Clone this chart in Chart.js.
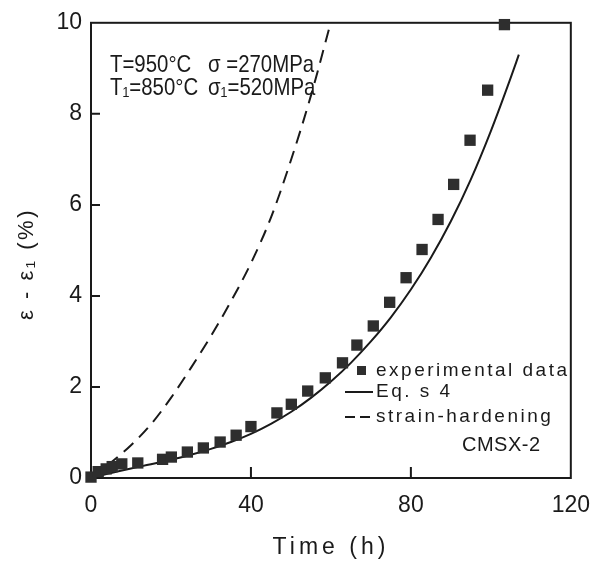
<!DOCTYPE html>
<html><head><meta charset="utf-8">
<script src="https://cdn.jsdelivr.net/npm/chart.js@4.4.0/dist/chart.umd.min.js"></script>
<style>html,body{margin:0;padding:0;background:#fff}canvas{display:block}</style>
</head><body>
<canvas id="c" width="604" height="565"></canvas>
<script>
// ---- data ----
const expTime   = [0, 1.8, 3.8, 5.3, 7.7, 11.7, 17.9, 20.1, 24.1, 28.1, 32.3, 36.3, 40, 46.5, 50.1, 54.2, 58.6, 62.9, 66.5, 70.6, 74.7, 78.8, 82.8, 86.8, 90.7, 94.8, 99.2, 103.4];
const expStrain = [0.02, 0.14, 0.2, 0.25, 0.31, 0.33, 0.41, 0.46, 0.57, 0.66, 0.79, 0.94, 1.13, 1.43, 1.62, 1.91, 2.2, 2.53, 2.92, 3.34, 3.86, 4.40, 5.02, 5.68, 6.45, 7.42, 8.52, 9.96];
const eqTime    = [0, 5, 10, 15, 20, 25, 30, 35, 40, 45, 50, 55, 60, 65, 70, 75, 80, 85, 90, 95, 100, 105, 107];
const eqStrain  = [0, 0.11, 0.21, 0.3, 0.4, 0.51, 0.64, 0.79, 0.97, 1.19, 1.45, 1.76, 2.12, 2.53, 3.0, 3.53, 4.14, 4.84, 5.64, 6.56, 7.62, 8.8, 9.3];
const shTime    = [0, 5, 10, 15, 20, 25, 30, 35, 40, 45, 50, 55, 60];
const shStrain  = [0, 0.34, 0.72, 1.18, 1.76, 2.42, 3.12, 3.88, 4.72, 5.72, 6.98, 8.4, 10.02];
const xTickValues = [0, 40, 80, 120];
const yTickValues = [0, 2, 4, 6, 8, 10];
const xTitle = 'Time (h)';
const yTitle = 'ε - ε₁ (%)';
const seriesNames = ['experimental data', 'Eq. s 4', 'strain-hardening'];
const materialName = 'CMSX-2';
const condLeft  = ['T=950°C', 'T₁=850°C'];
const condRight = ['σ =270MPa', 'σ₁=520MPa'];

const pts = (xs, ys) => xs.map((x, i) => ({x, y: ys[i]}));
const INK = '#1a1a1a';
const FONT = '"Liberation Sans", Arial, sans-serif';

const decor = {
  id: 'decor',
  beforeDatasetsDraw(chart) {
    const {ctx, chartArea: a, scales: {x, y}} = chart;
    ctx.save();
    ctx.strokeStyle = INK; ctx.lineWidth = 2;
    ctx.strokeRect(a.left, a.top, a.right - a.left, a.bottom - a.top);
    ctx.beginPath();
    y.ticks.forEach(t => {
      if (t.value > y.min && t.value < y.max) {
        const py = y.getPixelForValue(t.value);
        ctx.moveTo(a.left, py); ctx.lineTo(a.left + 9, py);
      }
    });
    x.ticks.forEach(t => {
      if (t.value > x.min && t.value < x.max) {
        const px = x.getPixelForValue(t.value);
        ctx.moveTo(px, a.bottom); ctx.lineTo(px, a.bottom - 11);
      }
    });
    ctx.stroke();
    ctx.restore();
  },
  afterDraw(chart) {
    const {ctx} = chart;
    const ds = chart.data.datasets;
    ctx.save();
    ctx.fillStyle = INK;
    ctx.textBaseline = 'middle';
    // axis titles
    ctx.font = '23px ' + FONT;
    ctx.letterSpacing = '4px';
    ctx.textAlign = 'center';
    ctx.fillText(xTitle, 331, 548);
    ctx.save();
    ctx.translate(27, 264); ctx.rotate(-Math.PI / 2);
    ctx.font = '22px ' + FONT;
    ctx.letterSpacing = '2.5px';
    ctx.fillText(yTitle, 0, 0);
    ctx.restore();
    // condition text (narrow lettering)
    ctx.textAlign = 'left';
    ctx.letterSpacing = '0px';
    ctx.font = '24px ' + FONT;
    [65, 88].forEach((py, i) => {
      ctx.save(); ctx.translate(110, py); ctx.scale(0.85, 1);
      ctx.fillText(condLeft[i], 0, 0); ctx.restore();
      ctx.save(); ctx.translate(208, py); ctx.scale(0.85, 1);
      ctx.fillText(condRight[i], 0, 0); ctx.restore();
    });
    // legend
    ctx.font = '19px ' + FONT;
    ctx.letterSpacing = '2.5px';
    const rows = [371, 392, 417];
    rows.forEach((py, i) => ctx.fillText(seriesNames[i], 376, py));
    ctx.letterSpacing = '0.5px';
    ctx.font = '20px ' + FONT;
    ctx.fillText(materialName, 462, 445);
    // legend symbols
    ctx.fillStyle = ds[0].pointBackgroundColor;
    ctx.fillRect(357, 366, 9, 9);
    ctx.strokeStyle = INK; ctx.lineWidth = 2;
    ctx.beginPath(); ctx.moveTo(345, rows[1]); ctx.lineTo(373, rows[1]); ctx.stroke();
    ctx.setLineDash([10, 5]);
    ctx.beginPath(); ctx.moveTo(345, rows[2]); ctx.lineTo(373, rows[2]); ctx.stroke();
    ctx.restore();
  }
};

new Chart(document.getElementById('c'), {
  type: 'scatter',
  data: {
    datasets: [
      { label: seriesNames[0], data: pts(expTime, expStrain), pointStyle: 'rect',
        pointRadius: 8, pointHoverRadius: 8, pointBackgroundColor: '#2e2e2e', pointBorderColor: '#2e2e2e',
        pointBorderWidth: 0, showLine: false, clip: false },
      { label: seriesNames[1], data: pts(eqTime, eqStrain), showLine: true, pointRadius: 0,
        borderColor: INK, borderWidth: 2, cubicInterpolationMode: 'monotone' },
      { label: seriesNames[2], data: pts(shTime, shStrain), showLine: true, pointRadius: 0,
        borderColor: INK, borderWidth: 2, borderDash: [13, 8], cubicInterpolationMode: 'monotone' }
    ]
  },
  options: {
    responsive: false, animation: false, devicePixelRatio: 1,
    layout: { padding: { left: 0, right: 30, top: 20, bottom: 0 } },
    plugins: { legend: { display: false }, tooltip: { enabled: false } },
    scales: {
      x: {
        type: 'linear', min: xTickValues[0], max: xTickValues[xTickValues.length - 1],
        afterBuildTicks: s => { s.ticks = xTickValues.map(v => ({value: v})); },
        afterFit: s => { s.height = 87; },
        grid: { display: false, drawTicks: false },
        border: { display: false },
        ticks: { padding: 14, color: INK, font: { family: FONT, size: 23 } }
      },
      y: {
        type: 'linear', min: yTickValues[0], max: yTickValues[yTickValues.length - 1],
        afterBuildTicks: s => { s.ticks = yTickValues.map(v => ({value: v})); },
        afterFit: s => { s.width = 91; },
        grid: { display: false, drawTicks: false },
        border: { display: false },
        ticks: { padding: 9, color: INK, font: { family: FONT, size: 23 } }
      }
    }
  },
  plugins: [decor]
});
</script>
</body></html>
